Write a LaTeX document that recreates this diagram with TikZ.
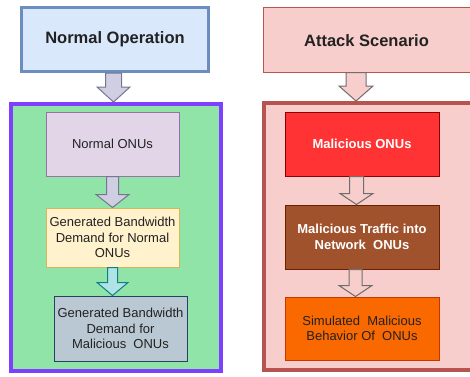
\documentclass[tikz,border=0pt]{standalone}
\usepackage{fontspec}
\setmainfont{Liberation Sans}
\usetikzlibrary{calc}
\definecolor{nopfill}{HTML}{DAE8FC}
\definecolor{nopdraw}{HTML}{6C8EBF}
\definecolor{lcfill}{HTML}{90E4A8}
\definecolor{lcdraw}{HTML}{7F3FFF}
\definecolor{purfill}{HTML}{E1D5E7}
\definecolor{purdraw}{HTML}{9673A6}
\definecolor{yelfill}{HTML}{FFF2CC}
\definecolor{yeldraw}{HTML}{D6B656}
\definecolor{slfill}{HTML}{BAC8D3}
\definecolor{sldraw}{HTML}{23445D}
\definecolor{pinkfill}{HTML}{F8CECC}
\definecolor{pinkdraw}{HTML}{B85450}
\definecolor{malfill}{HTML}{FF3333}
\definecolor{maldraw}{HTML}{8B0000}
\definecolor{brfill}{HTML}{A0522D}
\definecolor{brdraw}{HTML}{6D1F00}
\definecolor{orfill}{HTML}{FA6800}
\definecolor{ordraw}{HTML}{C73500}
\definecolor{arrpfill}{HTML}{D0CEE2}
\definecolor{arrpdraw}{HTML}{77758F}
\definecolor{arrcfill}{HTML}{B0E3E6}
\definecolor{arrcdraw}{HTML}{0E8088}
\definecolor{arrrdraw}{HTML}{6E6E6E}
\definecolor{txt}{HTML}{222222}
\newcommand{\blockarrow}[7][]{%
  \draw[#1] let \p1=(#2.south), \p2=(#3.north), \n1={\x1+#4pt} in
   ({\n1-#5pt},\y1) -- ({\n1+#5pt},\y1) -- ({\n1+#5pt},{\y2+#7pt})
   -- ({\n1+#6pt},{\y2+#7pt}) -- (\n1,\y2) -- ({\n1-#6pt},{\y2+#7pt})
   -- ({\n1-#5pt},{\y2+#7pt}) -- cycle;}
\tikzset{
  box/.style={draw, line width=1pt, inner sep=2pt, align=center, text=txt,
    font=\fontsize{13}{15.5}\selectfont},
  titlebox/.style={draw, align=center, text=txt,
    font=\fontsize{16.5}{19}\selectfont\bfseries},
  container/.style={draw, line width=4pt},
  parrow/.style={fill=arrpfill, draw=arrpdraw, line width=1pt, line join=miter},
  carrow/.style={fill=arrcfill, draw=arrcdraw, line width=1pt},
  rarrow/.style={fill=pinkfill, draw=arrrdraw, line width=1pt},
}
\begin{document}
\begin{tikzpicture}[x=1pt,y=-1pt]
\useasboundingbox (0,0) rectangle (470,376);
% left side
\node[titlebox, fill=nopfill, draw=nopdraw, line width=3pt,
  minimum width=187pt, minimum height=64pt] (nop) at (115,39.5) {Normal Operation};
\node[container, fill=lcfill, draw=lcdraw, minimum width=210pt, minimum height=267pt]
  (lcont) at (116,237.5) {};
\node[box, fill=purfill, draw=purdraw, minimum width=133pt, minimum height=64pt]
  (nonu) at (112.5,144) {Normal ONUs};
\node[box, fill=yelfill, draw=yeldraw, minimum width=133pt, minimum height=59pt]
  (gbn) at (112.5,237.5) {Generated Bandwidth\\Demand for Normal\\ONUs};
\node[box, fill=slfill, draw=sldraw, minimum width=133pt, minimum height=65pt]
  (gbm) at (120.5,328.5) {Generated Bandwidth\\Demand for\\Malicious\ \ ONUs};
\blockarrow[parrow]{nop}{lcont}{-1.5}{8}{16.5}{15}
\blockarrow[parrow]{nonu}{gbn}{0}{6}{16.5}{13}
\blockarrow[carrow]{gbn}{gbm}{0}{5}{15.5}{13}
% right side
\node[titlebox, fill=pinkfill, draw=pinkdraw, line width=1pt,
  minimum width=217pt, minimum height=65pt] (atk) at (371.5,39.5) {};
\node[font=\fontsize{16.5}{19}\selectfont\bfseries, text=txt] (atktxt) at (366.5,40.5) {Attack Scenario};
\node[container, fill=pinkfill, draw=pinkdraw, minimum width=216.5pt, minimum height=267pt]
  (rcont) at (371.75,236.5) {};
\node[box, fill=malfill, draw=maldraw, text=white, font=\fontsize{13}{15.5}\selectfont\bfseries,
  minimum width=154pt, minimum height=64pt] (mal) at (362,144) {Malicious ONUs};
\node[box, fill=brfill, draw=brdraw, text=white, font=\fontsize{13}{15.5}\selectfont\bfseries,
  minimum width=154pt, minimum height=64pt] (traf) at (362,237) {Malicious Traffic into\\Network\ \ ONUs};
\node[box, fill=orfill, draw=ordraw, minimum width=154pt, minimum height=63pt]
  (sim) at (362,328.5) {Simulated\ \ Malicious\\Behavior Of\ \ ONUs};
\blockarrow[rarrow]{atk}{rcont}{-15.5}{10}{17}{15}
\blockarrow[rarrow]{mal}{traf}{-5.5}{7}{16.5}{11}
\blockarrow[rarrow]{traf}{sim}{-6.5}{6.5}{16.5}{11}
\end{tikzpicture}
\end{document}
